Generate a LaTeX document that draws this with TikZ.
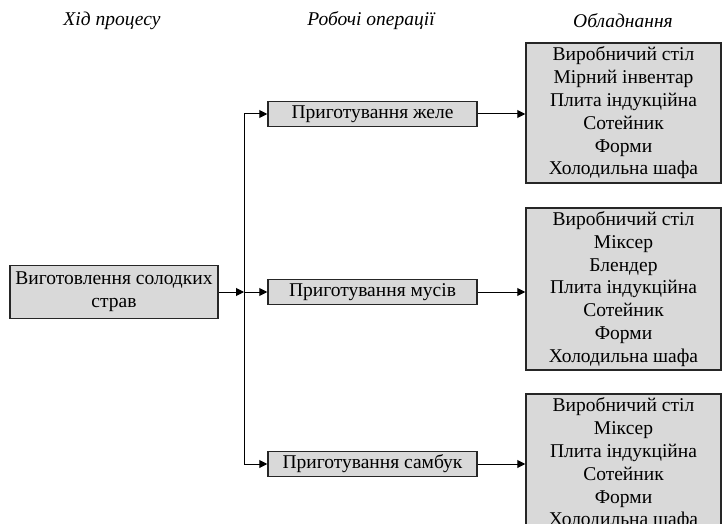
\documentclass[tikz,border=0pt]{standalone}
\usepackage{fontspec}
\setmainfont{Liberation Serif}
\usetikzlibrary{arrows.meta}
\begin{document}
\begin{tikzpicture}[x=1pt,y=-1pt,
  box/.style={draw=black!85, line width=1.5pt, fill=black!15, align=center,
    inner sep=0pt, font=\fontsize{19.5}{22.8}\selectfont},
  head/.style={font=\fontsize{19.5}{22.8}\selectfont\itshape},
  arr/.style={line width=1pt, -{Triangle[length=8pt,width=8pt]}}]
\useasboundingbox (0,0) rectangle (723,524);
\clip (0,0) rectangle (723,524);
\fill[white] (0,0) rectangle (723,524);

% column headings
\node[head] (h1) at (112,21) {Хід процесу};
\node[head] (h2) at (371,21) {Робочі операції};
\node[head] (h3) at (623,21) {Обладнання};

% process
\node[box, minimum width=208pt, minimum height=53pt] (src) at (114,292)
  {Виготовлення солодких\\страв};

% operations
\node[box, minimum width=209pt, minimum height=25pt] (op1) at (372.5,114) {Приготування желе};
\node[box, minimum width=209pt, minimum height=25pt] (op2) at (372.5,292) {Приготування мусів};
\node[box, minimum width=209pt, minimum height=25pt] (op3) at (372.5,464) {Приготування самбук};

% equipment
\node[box, minimum width=195pt, minimum height=140pt] (eq1) at (623.5,113)
  {Виробничий стіл\\Мірний інвентар\\Плита індукційна\\Сотейник\\Форми\\Холодильна шафа};
\node[box, minimum width=195pt, minimum height=162pt] (eq2) at (623.5,289)
  {Виробничий стіл\\Міксер\\Блендер\\Плита індукційна\\Сотейник\\Форми\\Холодильна шафа};
\node[box, minimum width=195pt, minimum height=140pt] (eq3) at (623.5,464)
  {Виробничий стіл\\Міксер\\Плита індукційна\\Сотейник\\Форми\\Холодильна шафа};

% connectors
\coordinate (j) at (244,292);
\draw[arr] (src.east) -- (j);
\draw[arr] (j) -- (op2.west);
\draw[arr] (j) |- (op1.west);
\draw[arr] (j) |- (op3.west);
\draw[arr] (op1.east) -- (op1.east -| eq1.west);
\draw[arr] (op2.east) -- (op2.east -| eq2.west);
\draw[arr] (op3.east) -- (op3.east -| eq3.west);
\end{tikzpicture}
\end{document}
